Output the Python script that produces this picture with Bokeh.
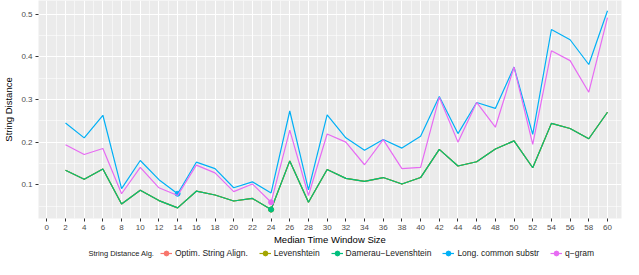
import numpy as np
from bokeh.plotting import figure
from bokeh.layouts import column
from bokeh.models import (FixedTicker, Legend, LegendItem, Range1d, Label)
from bokeh.embed import file_html
from bokeh.resources import INLINE

window = list(range(2, 61, 2))
osa = [0.134, 0.113, 0.137, 0.055, 0.087, 0.063, 0.046, 0.085, 0.076, 0.062,
       0.068, 0.042, 0.156, 0.059, 0.136, 0.115, 0.108, 0.117, 0.102, 0.117,
       0.183, 0.144, 0.154, 0.184, 0.203, 0.140, 0.244, 0.232, 0.208, 0.270]
levenshtein = list(osa)
damerau = list(osa)
lcs = [0.245, 0.210, 0.263, 0.091, 0.157, 0.112, 0.079, 0.153, 0.138, 0.093,
       0.107, 0.081, 0.273, 0.088, 0.264, 0.210, 0.181, 0.206, 0.186, 0.214,
       0.307, 0.220, 0.293, 0.279, 0.376, 0.218, 0.464, 0.440, 0.382, 0.508]
qgram = [0.194, 0.171, 0.185, 0.079, 0.141, 0.093, 0.075, 0.146, 0.128, 0.084,
         0.102, 0.059, 0.228, 0.075, 0.219, 0.200, 0.147, 0.206, 0.138, 0.141,
         0.305, 0.200, 0.293, 0.235, 0.376, 0.195, 0.414, 0.391, 0.317, 0.492]
names = ["Optim. String Align.", "Levenshtein", "Damerau\u2212Levenshtein",
         "Long. common substr", "q\u2212gram"]
colors = ["#F8766D", "#A3A500", "#00BF7D", "#00B0F6", "#E76BF3"]
series = [osa, levenshtein, damerau, lcs, qgram]
x_ticks = list(range(0, 61, 2))
y_ticks = [0.1, 0.2, 0.3, 0.4, 0.5]
legend_title = "String Distance Alg."

FONT = "Liberation Sans"

p = figure(width=623, height=247, output_backend="svg", toolbar_location=None,
           x_range=Range1d(-0.89, 61.5), y_range=Range1d(0.021, 0.532),
           min_border_left=35, min_border_right=2, min_border_top=0,
           min_border_bottom=0)
p.background_fill_color = "#EBEBEB"
p.border_fill_color = "white"
p.outline_line_color = None

p.xaxis.ticker = FixedTicker(ticks=x_ticks, minor_ticks=list(range(-1, 63, 2)))
p.yaxis.ticker = FixedTicker(ticks=y_ticks,
                             minor_ticks=[0.05, 0.15, 0.25, 0.35, 0.45, 0.55])

for ax in (p.xaxis[0], p.yaxis[0]):
    ax.axis_line_color = None
    ax.major_tick_line_color = "#333333"
    ax.major_tick_out = 3
    ax.major_tick_in = 0
    ax.minor_tick_line_color = None
    ax.major_label_text_font = FONT
    ax.major_label_text_font_size = "8px"
    ax.major_label_text_color = "#4D4D4D"
    ax.axis_label_text_font = FONT
    ax.axis_label_text_font_size = "9.5px"
    ax.axis_label_text_font_style = "normal"
    ax.axis_label_text_color = "black"
    ax.major_label_standoff = 2
    ax.axis_label_standoff = 1

p.yaxis.axis_label_standoff = 4
p.xaxis.axis_label = "Median Time Window Size"
p.yaxis.axis_label = "String Distance"

p.xgrid.grid_line_color = "white"
p.ygrid.grid_line_color = "white"
p.xgrid.grid_line_width = 1.1
p.ygrid.grid_line_width = 1.1
p.xgrid.minor_grid_line_color = "white"
p.ygrid.minor_grid_line_color = "white"
p.xgrid.minor_grid_line_width = 0.55
p.ygrid.minor_grid_line_width = 0.55

for name, col, vals in zip(names, colors, series):
    p.line(window, vals, line_color=col, line_width=1.2)
    i = int(np.argmin(vals))
    p.scatter([window[i]], [vals[i]], size=5, fill_color=col, line_color=col)

# legend strip (separate small figure, frame aligned with the main plot)
lf = figure(width=623, height=12, output_backend="svg", toolbar_location=None,
            x_range=Range1d(1000, 1001), y_range=Range1d(0, 1),
            min_border=0)
lf.axis.visible = False
lf.grid.visible = False
lf.outline_line_color = None
lf.background_fill_color = "white"
lf.border_fill_color = "white"

items = []
for name, col, vals in zip(names, colors, series):
    r = lf.line(window, vals, line_color=col, line_width=1.2)
    i = int(np.argmin(vals))
    s = lf.scatter([window[i]], [vals[i]], size=5, fill_color=col,
                   line_color=col)
    items.append(LegendItem(label=name, renderers=[r, s]))

legend = Legend(items=items, orientation="horizontal", location=(122, 0))
legend.label_text_font = FONT
legend.label_text_font_size = "8.5px"
legend.label_text_color = "#1A1A1A"
legend.glyph_width = 12
legend.glyph_height = 12
legend.label_height = 12
legend.label_standoff = 3
legend.spacing = 11
legend.padding = 0
legend.margin = 0
legend.border_line_color = None
legend.background_fill_alpha = 0
lf.add_layout(legend, "center")

title = Label(x=50, y=6, x_units="screen", y_units="screen",
              text=legend_title, text_font=FONT, text_font_size="7.5px",
              text_color="#1A1A1A", text_baseline="middle")
lf.add_layout(title)

layout = column(p, lf, spacing=0)
open("out.html", "w").write(file_html(layout, INLINE))
